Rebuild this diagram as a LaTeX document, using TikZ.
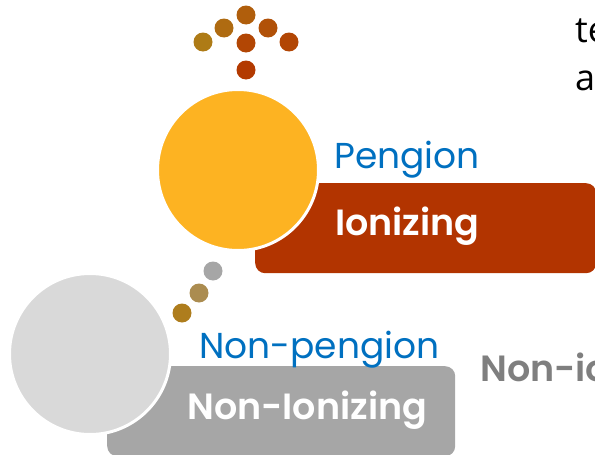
\documentclass[tikz,border=0pt]{standalone}
\usepackage{fontspec}
\setmainfont{Poppins}
\newfontfamily\titlefont{Poppins SemiBold}
\newfontfamily\notefont{Open Sans}
\usetikzlibrary{positioning}
\definecolor{sungold}{HTML}{FDB322}
\definecolor{rust}{HTML}{B23400}
\definecolor{tagblue}{HTML}{0070C0}
\definecolor{palegray}{HTML}{D9D9D9}
\definecolor{bargray}{HTML}{A6A6A6}
\definecolor{textgray}{HTML}{7F7F7F}
\definecolor{dotgold}{HTML}{AE7B16}
\definecolor{dotred}{HTML}{B33A00}
\begin{document}
\begin{tikzpicture}[x=1pt,y=-1pt,
  ball/.style={circle,draw=white,line width=3pt,minimum size=161pt,inner sep=0pt},
  bar/.style={rectangle,rounded corners=10pt,anchor=north west,inner sep=0pt},
  tag/.style={anchor=base west,inner sep=0pt,text=tagblue,font=\fontsize{36}{40}\selectfont},
  title/.style={anchor=base west,inner sep=0pt,font=\titlefont\fontsize{36.5}{42}\selectfont}]
\useasboundingbox (0,0) rectangle (595,455);
\clip (0,0) rectangle (595,455);
% ionizing
\node[bar,fill=rust,minimum width=341pt,minimum height=90pt] (ionbar) at (255,183) {};
\node[ball,fill=sungold] (sun) at (238,170) {};
\node[tag] (pengion) at (334,168) {Pengion};
\node[title,text=white] (ion) at (335,235) {Ionizing};
% non-ionizing
\node[bar,fill=bargray,minimum width=348pt,minimum height=90pt] (nonbar) at (107,366) {};
\node[ball,fill=palegray] (moon) at (90,354) {};
\node[tag] (nonpengion) at (199,358) {Non-pengion};
\node[title,text=white] (nonion) at (187,419) {Non-Ionizing};
\node[title,text=textgray] (side) at (480,381) {Non-io};
% dots
\foreach \px/\py/\m in {203/42/0,224/28/25,246/15/45,268/28/65,246/43/82,289/42/82,246/70/100} {
\fill[dotred!\m!dotgold] (\px,\py) circle (9.5);
}
\fill[bargray] (213,271) circle (9.5);
\fill[bargray!40!dotgold] (199,293) circle (9.5);
\fill[dotgold!95!bargray] (182,313) circle (9.5);
% notes
\node[anchor=base west,inner sep=0pt,font=\notefont\fontsize{36}{40}\selectfont] (note1) at (575,42) {te};
\node[anchor=base west,inner sep=0pt,font=\notefont\fontsize{36}{40}\selectfont] (note2) at (575,90) {a};
\end{tikzpicture}
\end{document}
